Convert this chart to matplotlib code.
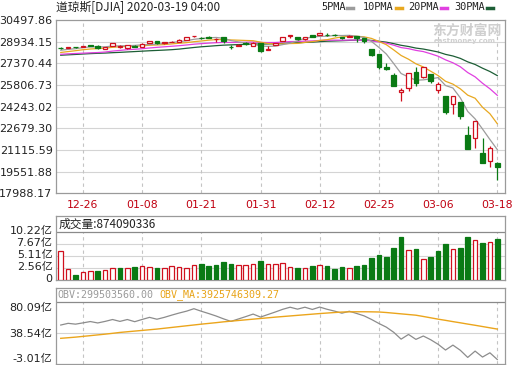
import numpy as np
import pandas as pd
import matplotlib
matplotlib.use('Agg')
import matplotlib.pyplot as plt
from matplotlib.lines import Line2D
from matplotlib.transforms import ScaledTranslation

plt.rcParams['font.family'] = ['DejaVu Sans', 'Noto Sans CJK SC']

# ---- data (DJIA daily, 2019-12-20 .. 2020-03-18) ----
dates = ['12-20', '12-23', '12-24', '12-26', '12-27', '12-30', '12-31',
         '01-02', '01-03', '01-06', '01-07', '01-08', '01-09', '01-10', '01-13',
         '01-14', '01-15', '01-16', '01-17', '01-21', '01-22', '01-23', '01-24',
         '01-27', '01-28', '01-29', '01-30', '01-31', '02-03', '02-04', '02-05',
         '02-06', '02-07', '02-10', '02-11', '02-12', '02-13', '02-14', '02-18',
         '02-19', '02-20', '02-21', '02-24', '02-25', '02-26', '02-27', '02-28',
         '03-02', '03-03', '03-04', '03-05', '03-06', '03-09', '03-10', '03-11',
         '03-12', '03-13', '03-16', '03-17', '03-18']
tick_dates = ['12-26', '01-08', '01-21', '01-31', '02-12', '02-25', '03-06', '03-18']

opens = [28472, 28491, 28573, 28539, 28675, 28654, 28415, 28638, 28553, 28465,
         28639, 28556, 28851, 29006, 28862, 28908, 28930, 29086, 29313, 29212,
         29263, 29140, 29243, 28542, 28597, 28820, 28640, 28813, 28319, 28696,
         28975, 29320, 29286, 29094, 29396, 29406, 29436, 29440, 29281, 29279,
         29333, 29193, 28402, 28023, 27139, 26526, 25320, 25590, 26762, 26383,
         26620, 25457, 24992, 24453, 24604, 22184, 21973, 20917, 20345, 20210]
highs = [28582, 28582, 28576, 28621, 28701, 28664, 28547, 28872, 28716, 28708,
         28685, 28866, 28958, 29009, 28908, 29005, 29110, 29300, 29374, 29244,
         29373, 29188, 29287, 28723, 28749, 28892, 28879, 28813, 28592, 28856,
         29292, 29408, 29286, 29278, 29415, 29568, 29525, 29458, 29294, 29406,
         29367, 29193, 28402, 28062, 27409, 26687, 25600, 26706, 27084, 27102,
         26620, 25994, 24992, 25020, 24604, 22837, 23190, 21960, 21409, 20277]
lows = [28411, 28491, 28491, 28535, 28608, 28428, 28376, 28627, 28500, 28418,
        28565, 28522, 28837, 28798, 28796, 28895, 28930, 29084, 29290, 29137,
        29170, 28944, 28828, 28440, 28597, 28729, 28591, 28169, 28319, 28696,
        28975, 29233, 29056, 29034, 29249, 29406, 29335, 29312, 29112, 29279,
        28938, 28865, 27921, 26978, 26906, 25760, 24681, 25391, 25706, 26286,
        25915, 25226, 23706, 23690, 23328, 21154, 21285, 20188, 19882, 18917]
closes = [28455, 28552, 28515, 28621, 28645, 28462, 28538, 28869, 28635, 28703,
          28584, 28745, 28957, 28824, 28907, 28940, 29030, 29298, 29348, 29196,
          29186, 29160, 28990, 28536, 28723, 28734, 28859, 28256, 28400, 28808,
          29291, 29380, 29103, 29277, 29276, 29551, 29423, 29398, 29232, 29348,
          29220, 28992, 27961, 27081, 26958, 25767, 25409, 26703, 25917, 27091,
          26121, 25865, 23851, 25018, 23553, 21201, 23186, 20189, 21237, 19899]
# closes before the window (needed for the moving averages)
prev_closes = [27681, 27691, 27691, 27784, 27782, 28005, 28036, 27934, 27821, 27766,
               27876, 28066, 28122, 28164, 28051, 27783, 27503, 27650, 27678, 28015,
               27910, 27882, 27911, 28132, 28135, 28236, 28267, 28239, 28377]

volumes = [6.15, 2.29, 1.14, 1.71, 1.86, 1.93, 2.08, 2.51, 2.51, 2.51,
           2.85, 2.94, 2.85, 2.57, 2.57, 2.94, 2.79, 2.57, 3.28, 3.43,
           3.06, 3.28, 3.79, 3.43, 3.21, 3.21, 3.36, 4.00, 3.43, 3.43,
           3.58, 2.79, 2.57, 2.57, 3.00, 3.21, 3.00, 2.36, 2.79, 2.57,
           3.00, 3.21, 4.78, 5.36, 4.99, 6.86, 9.21, 6.36, 6.64, 4.50,
           4.99, 6.15, 7.71, 6.64, 6.92, 9.21, 8.51, 7.99, 8.14, 8.74]  # 亿

obv = [49.2, 51.5, 50.4, 52.1, 53.9, 52.0, 54.1, 56.6, 54.1, 56.6,
       53.7, 56.7, 59.5, 57.0, 59.5, 62.5, 65.3, 67.8, 71.1, 67.7,
       64.6, 61.3, 57.5, 54.1, 57.3, 60.5, 63.9, 59.9, 63.3, 66.7,
       70.3, 73.1, 70.5, 73.1, 70.1, 73.3, 70.3, 67.9, 65.1, 67.7,
       64.7, 61.5, 56.7, 51.3, 46.4, 39.5, 30.3, 36.6, 30.0, 34.5,
       29.5, 23.4, 15.7, 22.3, 15.4, 5.8, 14.3, 6.3, 12.0, 3.0]
obv_ma = [31.4, 32.2, 33.0, 34.0, 35.0, 36.0, 37.0, 38.1, 39.3, 40.2,
          41.1, 42.0, 42.9, 43.8, 44.9, 46.0, 47.1, 48.2, 49.3, 50.4,
          51.4, 52.4, 53.5, 54.4, 55.3, 56.2, 57.1, 58.0, 58.9, 59.8,
          60.6, 61.4, 62.2, 63.0, 63.8, 64.6, 65.3, 66.0, 66.6, 66.9,
          67.0, 67.0, 66.9, 66.7, 66.0, 65.1, 64.2, 63.3, 62.4, 60.7,
          58.9, 57.1, 55.5, 53.8, 52.2, 50.5, 48.9, 47.2, 45.5, 43.8]

price_ticks = [17988.17, 19551.88, 21115.59, 22679.30, 24243.02,
               25806.73, 27370.44, 28934.15, 30497.86]
vol_ticks = [0, 2.56, 5.11, 7.67, 10.22]
obv_ticks = [-3.01, 38.54, 80.09]

# ---- derived ----
n = len(dates)
x = np.arange(n)
o, h, l, c = map(np.array, (opens, highs, lows, closes))
all_close = pd.Series(prev_closes + closes)
ma = {p: all_close.rolling(p).mean().values[-n:] for p in (5, 10, 20, 30)}
prev_c = np.array([prev_closes[-1]] + closes[:-1])

RED = '#d0101e'
GREEN = '#0a7a14'
GRID = '#d4d4d4'
VGRID = '#c4c4c4'
BORDER = '#9a9a9a'
ma_colors = {5: '#9c9c9c', 10: '#e8a820', 20: '#e040e0', 30: '#1d5e36'}

W, H = 520, 365
def fx(px):
    return px / W
def fy(py):
    return 1 - py / H

fig = plt.figure(figsize=(W / 100, H / 100), dpi=100)
L, R = 56, 505
xlim = (-0.64, 60.04)
tick_idx = [dates.index(d) for d in tick_dates]

def style(ax):
    for s in ax.spines.values():
        s.set_color(BORDER)
        s.set_linewidth(0.9)
    ax.tick_params(length=0, labelsize=8, colors='#222222', pad=2.5)
    ax.set_xlim(*xlim)

# ---- price panel ----
ax = fig.add_axes([fx(L), fy(193.3), fx(R) - fx(L), (193.3 - 20) / H])
style(ax)
ax.set_ylim(price_ticks[0], price_ticks[-1])
ax.set_yticks(price_ticks)
ax.set_yticklabels(['%.2f' % v for v in price_ticks])
for v in price_ticks[1:-1]:
    ax.axhline(v, color=GRID, lw=0.8, zorder=0)
for i in tick_idx:
    ax.axvline(i, color=VGRID, lw=0.8, ls=(0, (3, 3)), zorder=0)
ax.set_xticks(tick_idx)
ax.set_xticklabels(tick_dates, color='#c00010', fontsize=7.8)
ax.tick_params(axis='x', pad=5)

for p in (30, 20, 10, 5):
    ax.plot(x, ma[p], color=ma_colors[p], lw=0.9, zorder=2)

up = c >= o
col = np.where(up, RED, GREEN)
ax.vlines(x, l, h, colors=col, lw=0.9, zorder=3)
body_b = np.minimum(o, c)
body_h = np.maximum(np.abs(c - o), 18)
ax.bar(x, body_h, bottom=body_b, width=0.62,
       color=np.where(up, 'white', GREEN), edgecolor=col, linewidth=0.9, zorder=4)

# ---- volume panel ----
vax = fig.add_axes([fx(L), fy(280), fx(R) - fx(L), (280 - 216) / H])
style(vax)
vtop = 10.22 + 16.3 * 10.22 / 47.7
vax.set_ylim(0, vtop)
vax.set_xticks([])
vax.set_yticks(vol_ticks)
vax.set_yticklabels(['0'] + ['%.2f亿' % v for v in vol_ticks[1:]])
off = ScaledTranslation(0, 2.5 / 100, fig.dpi_scale_trans)
for lbl in vax.get_yticklabels():
    lbl.set_transform(lbl.get_transform() + off)
for v in vol_ticks[1:-1]:
    vax.axhline(v, color=GRID, lw=0.8, zorder=0)
vax.axhline(10.22, color='#8a8a8a', lw=0.9, zorder=1)
vax.vlines(tick_idx, 0, 10.22, colors=VGRID, lw=0.8, linestyles=(0, (3, 3)), zorder=0)
vup = c >= prev_c
vcol = np.where(vup, RED, GREEN)
vax.bar(x, volumes, width=0.62, color=np.where(vup, 'white', GREEN),
        edgecolor=vcol, linewidth=0.9, zorder=3)
vax.text(0.005, (vtop + 10.22) / 2, '成交量:874090336', fontsize=8.5, va='center',
         ha='left', transform=vax.get_yaxis_transform(),
         family=['Noto Sans CJK SC', 'DejaVu Sans'], color='#222222')

# ---- OBV panel ----
oax = fig.add_axes([fx(L), fy(364), fx(R) - fx(L), (364 - 288) / H])
style(oax)
otop = 80.09 + 14 * (80.09 + 3.01) / 62
oax.set_ylim(-3.01, otop)
oax.set_xticks([])
oax.set_yticks(obv_ticks)
oax.set_yticklabels(['%.2f亿' % v for v in obv_ticks])
lbls = oax.get_yticklabels()
lbls[0].set_transform(lbls[0].get_transform() + ScaledTranslation(0, 6 / 100, fig.dpi_scale_trans))
lbls[2].set_transform(lbls[2].get_transform() + ScaledTranslation(0, -5 / 100, fig.dpi_scale_trans))
oax.axhline(38.54, color=GRID, lw=0.8, zorder=0)
oax.axhline(80.09, color='#8a8a8a', lw=0.9, zorder=1)
oax.vlines(tick_idx, -3.01, 80.09, colors=VGRID, lw=0.8, linestyles=(0, (3, 3)), zorder=0)
oax.plot(x, obv_ma, color='#eba51c', lw=1.0, zorder=3)
oax.plot(x, obv, color='#8c8c8c', lw=0.9, zorder=2)
fig.text(fx(57), fy(295), 'OBV:299503560.00', fontsize=7.2, family='DejaVu Sans Mono',
         color='#9a9a9a', va='center')
fig.text(fx(159), fy(295), 'OBV_MA:3925746309.27', fontsize=7.2, family='DejaVu Sans Mono',
         color='#e8a317', va='center')

# ---- header ----
fig.text(fx(56), fy(7), '道琼斯[DJIA] 2020-03-19 04:00', fontsize=8.5, va='center',
         family=['Noto Sans CJK SC', 'DejaVu Sans'], color='#222222')
legend_items = [('5PMA', 321, 347, ma_colors[5]), ('10PMA', 363, 396, ma_colors[10]),
                ('20PMA', 408, 441, ma_colors[20]), ('30PMA', 454, 487, ma_colors[30])]
for name, tx, dx, colr in legend_items:
    fig.text(fx(tx), fy(7.5), name, fontsize=7.4, va='center', family='DejaVu Sans Mono',
             color='#222222')
    fig.add_artist(Line2D([fx(dx), fx(dx + 6)], [fy(8), fy(8)], color=colr, lw=2.5,
                          transform=fig.transFigure))

# watermark
fig.text(fx(432), fy(31), '东方财富网', fontsize=10, va='center', color='#cfcfcf',
         family=['Noto Sans CJK SC'], fontweight='bold')
fig.text(fx(434), fy(41.5), 'eastmoney.com', fontsize=5, va='center', color='#d0d0d0',
         fontweight='bold')

fig.savefig('out.png', dpi=100)
